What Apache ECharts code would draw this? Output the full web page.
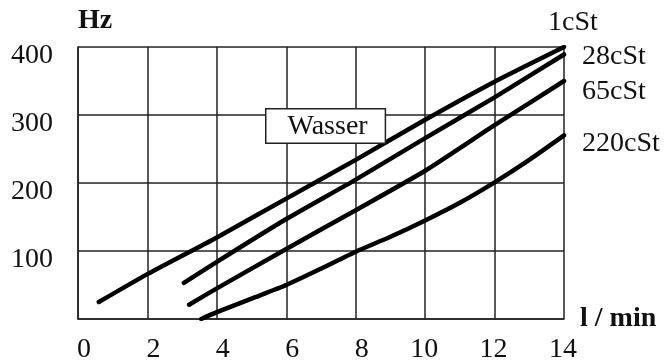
<!DOCTYPE html>
<html>
<head>
<meta charset="utf-8">
<script src="https://cdn.jsdelivr.net/npm/echarts@6/dist/echarts.min.js"></script>
<style>html,body{margin:0;padding:0;background:#fff}#c{width:666px;height:364px}</style>
</head>
<body>
<div id="c"></div>
<script>
// Data
var xTicks = [0, 2, 4, 6, 8, 10, 12, 14];
var yTicks = [0, 100, 200, 300, 400];

var wasserX = [0.6, 2, 4, 6, 8, 10, 12, 14];
var wasserY = [25, 66, 120, 177, 234, 293, 349, 400];

var cst28X = [3.05, 4, 6, 8, 10, 12, 14];
var cst28Y = [53, 84, 147, 205, 266, 326, 389];

var cst65X = [3.2, 4, 6, 8, 10, 12, 14];
var cst65Y = [21, 45, 103, 160, 218, 285, 350];

var cst220X = [3.55, 4, 5, 6, 7, 8, 9, 10, 11, 12, 13, 14];
var cst220Y = [0, 10, 30, 50, 74, 99, 121, 145, 171, 201, 234, 270];

var seriesNames = ['1cSt', '28cSt', '65cSt', '220cSt'];
var labelOffsets = [[-16, -24], [18, 2], [18, 11], [18, 8]];

function pairs(xs, ys) { return xs.map(function (x, i) { return [x, ys[i]]; }); }

var FONT = '"Liberation Serif", "DejaVu Serif", serif';
var TXT = '#111';
var sets = [pairs(wasserX, wasserY), pairs(cst28X, cst28Y), pairs(cst65X, cst65Y), pairs(cst220X, cst220Y)];

var chart = echarts.init(document.getElementById('c'), null, {renderer: 'canvas'});
chart.setOption({
  animation: false,
  backgroundColor: '#fff',
  grid: {left: 78, top: 47, width: 486, height: 276, containLabel: false},
  xAxis: {
    type: 'value', min: xTicks[0], max: xTicks[xTicks.length - 1], interval: 2,
    name: 'l / min', nameLocation: 'end', nameGap: 16,
    nameTextStyle: {fontFamily: FONT, fontSize: 28, fontWeight: 'bold', color: TXT, align: 'left', verticalAlign: 'middle', padding: [0, 0, 20, 0]},
    axisLine: {show: true, lineStyle: {color: '#222', width: 1.5}},
    axisTick: {show: false},
    splitLine: {show: true, lineStyle: {color: '#222', width: 1.5}},
    axisLabel: {fontFamily: FONT, fontSize: 28, color: TXT, margin: 17, align: 'right', padding: [0, -13, 0, 0]}
  },
  yAxis: {
    type: 'value', min: yTicks[0], max: yTicks[yTicks.length - 1], interval: 100,
    name: 'Hz', nameLocation: 'end', nameGap: 12,
    nameTextStyle: {fontFamily: FONT, fontSize: 28, fontWeight: 'bold', color: TXT, align: 'left', verticalAlign: 'bottom'},
    axisLine: {show: true, lineStyle: {color: '#222', width: 1.5}},
    axisTick: {show: false},
    splitLine: {show: true, lineStyle: {color: '#222', width: 1.5}},
    axisLabel: {fontFamily: FONT, fontSize: 28, color: TXT, margin: 25, verticalAlign: 'top', lineHeight: 18,
      formatter: function (v) { return v === 0 ? '' : String(v); }}
  },
  series: sets.map(function (d, i) {
    return {
      type: 'line', name: seriesNames[i], data: d, smooth: 0.2, showSymbol: false, symbol: 'none',
      lineStyle: {color: '#000', width: 4.5, cap: 'round', join: 'round'},
      endLabel: {show: true, formatter: seriesNames[i], fontFamily: FONT, fontSize: 28, color: TXT,
        distance: 0, align: 'left', verticalAlign: 'middle', offset: labelOffsets[i]},
      z: 3
    };
  }),
  graphic: [{
    type: 'text', left: 265, top: 108, z: 10,
    style: {text: 'Wasser', font: '28px ' + FONT, fill: TXT, backgroundColor: '#fff', borderColor: '#222', borderWidth: 1.5,
      padding: [3, 17, 2, 21]}
  }]
});
</script>
</body>
</html>
